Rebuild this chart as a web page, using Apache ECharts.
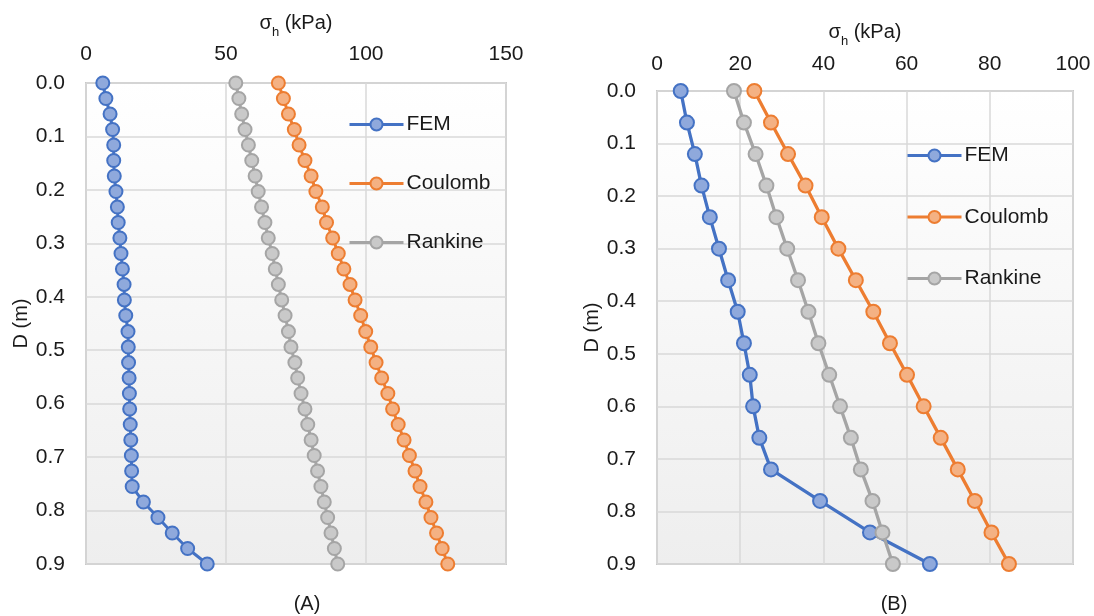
<!DOCTYPE html>
<html>
<head>
<meta charset="utf-8">
<script src="https://cdn.jsdelivr.net/npm/echarts@6/dist/echarts.min.js"></script>
<style>
html,body{margin:0;padding:0;background:#fff;}
#chart{width:1094px;height:616px;}
</style>
</head>
<body>
<div id="chart"></div>
<script>
// ---- Data (A) ----
const depthA = [0, 0.029, 0.058, 0.087, 0.116, 0.145, 0.174, 0.203, 0.232, 0.261, 0.290, 0.319, 0.348, 0.377, 0.406, 0.435,
                0.465, 0.494, 0.523, 0.552, 0.581, 0.610, 0.639, 0.668, 0.697, 0.726, 0.755, 0.784, 0.813, 0.842, 0.871, 0.900];
const femA = [6.0, 7.1, 8.6, 9.5, 9.9, 9.9, 10.1, 10.7, 11.2, 11.5, 12.1, 12.5, 13.0, 13.6, 13.7, 14.2,
              15.0, 15.1, 15.2, 15.4, 15.5, 15.6, 15.8, 16.0, 16.2, 16.3, 16.5, 20.5, 25.7, 30.8, 36.3, 43.3];
const coulombA = [68.7, 70.5, 72.3, 74.4, 76.1, 78.2, 80.4, 82.1, 84.4, 85.9, 88.1, 90.1, 92.1, 94.3, 96.1, 98.1,
                  99.9, 101.7, 103.6, 105.6, 107.8, 109.5, 111.5, 113.6, 115.5, 117.5, 119.3, 121.4, 123.2, 125.2, 127.2, 129.2];
const rankineA = [53.5, 54.6, 55.6, 56.8, 58.0, 59.2, 60.4, 61.5, 62.7, 63.9, 65.1, 66.5, 67.6, 68.7, 69.9, 71.1,
                  72.3, 73.2, 74.6, 75.6, 76.8, 78.2, 79.2, 80.4, 81.5, 82.7, 83.9, 85.1, 86.3, 87.5, 88.7, 89.9];
// ---- Data (B) ----
const depthB = [0, 0.06, 0.12, 0.18, 0.24, 0.30, 0.36, 0.42, 0.48, 0.54, 0.60, 0.66, 0.72, 0.78, 0.84, 0.90];
const femB = [5.7, 7.2, 9.1, 10.7, 12.7, 14.9, 17.1, 19.4, 20.9, 22.3, 23.1, 24.6, 27.4, 39.2, 51.2, 65.6];
const coulombB = [23.4, 27.4, 31.5, 35.7, 39.6, 43.6, 47.8, 52.0, 56.0, 60.1, 64.1, 68.2, 72.3, 76.4, 80.4, 84.6];
const rankineB = [18.5, 20.9, 23.7, 26.3, 28.7, 31.3, 33.9, 36.4, 38.8, 41.4, 44.0, 46.6, 49.0, 51.8, 54.2, 56.7];

const seriesNames = ['FEM', 'Coulomb', 'Rankine'];
const xRangeA = [0, 150, 50];
const xRangeB = [0, 100, 20];
const yRange = [0, 0.9, 0.1];
const captions = ['(A)', '(B)'];

const FONT = "'Liberation Sans', Arial, sans-serif";
const TXT = '#1a1a1a';
const lineCol = ['#4472C4', '#ED7D31', '#A5A5A5'];
const fillCol = ['#8FA9DC', '#F4B183', '#C9C9C9'];

function pairs(xs, ys) { return xs.map((v, i) => [v, ys[i]]); }

const bg = {type:'linear', x:0, y:0, x2:0, y2:1, colorStops:[{offset:0, color:'#ffffff'},{offset:1, color:'#eeeeee'}]};

function xAxis(gi, r, margin, gap) {
  return {
    gridIndex: gi, type: 'value', position: 'top', min: r[0], max: r[1], interval: r[2],
    axisLine: {show: false}, axisTick: {show: false},
    axisLabel: {fontFamily: FONT, fontSize: 21, color: TXT, margin: margin},
    splitLine: {show: true, lineStyle: {color: '#d9d9d9', width: 1.5}},
    name: '{s|σ}{sub|h}{s| (kPa)}', nameLocation: 'middle', nameGap: gap,
    nameTextStyle: {rich: {
      s: {fontFamily: FONT, fontSize: 20, color: TXT, lineHeight: 24},
      sub: {fontFamily: FONT, fontSize: 13, color: TXT, verticalAlign: 'bottom', lineHeight: 14, padding: [0,0,-4,0]}
    }}
  };
}
function yAxis(gi, gap) {
  return {
    gridIndex: gi, type: 'value', inverse: true, min: yRange[0], max: yRange[1], interval: yRange[2],
    axisLine: {show: false}, axisTick: {show: false},
    axisLabel: {fontFamily: FONT, fontSize: 21, color: TXT, margin: 21, formatter: v => v.toFixed(1)},
    splitLine: {show: true, lineStyle: {color: '#d9d9d9', width: 1.5}},
    name: 'D (m)', nameLocation: 'middle', nameGap: gap, nameRotate: 90,
    nameTextStyle: {fontFamily: FONT, fontSize: 20, color: TXT}
  };
}
function series(gi, name, k, xs, ys, size, lw) {
  return {
    type: 'line', name: name, xAxisIndex: gi, yAxisIndex: gi, data: pairs(xs, ys),
    symbol: 'circle', symbolSize: size,
    lineStyle: {color: lineCol[k], width: lw},
    itemStyle: {color: fillCol[k], borderColor: lineCol[k], borderWidth: 2},
    emphasis: {disabled: true}, animation: false
  };
}
function legend(left, top, gap) {
  return {orient: 'vertical', left: left, top: top, padding: 0, itemWidth: 54, itemHeight: 15, itemGap: gap,
    data: seriesNames, selectedMode: false,
    lineStyle: {width: 3}, itemStyle: {borderWidth: 2},
    textStyle: {fontFamily: FONT, fontSize: 21, color: TXT, padding: [0,0,0,-2]}};
}

const chart = echarts.init(document.getElementById('chart'), null, {renderer: 'canvas'});
chart.setOption({
  animation: false,
  backgroundColor: '#ffffff',
  title: [
    {text: captions[0], left: 302, top: 589, textAlign: 'center', textStyle: {fontFamily: FONT, fontSize: 20, fontWeight: 'normal', color: TXT}},
    {text: captions[1], left: 889, top: 589, textAlign: 'center', textStyle: {fontFamily: FONT, fontSize: 20, fontWeight: 'normal', color: TXT}}
  ],
  grid: [
    {left: 86, top: 83, width: 420, height: 481, show: true, backgroundColor: bg, borderColor: '#c8c8c8', borderWidth: 2},
    {left: 657, top: 91, width: 416, height: 473, show: true, backgroundColor: bg, borderColor: '#c8c8c8', borderWidth: 2}
  ],
  xAxis: [xAxis(0, xRangeA, 18, 47), xAxis(1, xRangeB, 16, 47)],
  yAxis: [yAxis(0, 42), yAxis(1, 45)],
  legend: [legend(348, 114, 38), legend(906, 145, 40.5)],
  series: [
    series(0, seriesNames[0], 0, femA, depthA, 13, 3),
    series(0, seriesNames[1], 1, coulombA, depthA, 13, 3),
    series(0, seriesNames[2], 2, rankineA, depthA, 13, 3),
    series(1, seriesNames[0], 0, femB, depthB, 14, 3.3),
    series(1, seriesNames[1], 1, coulombB, depthB, 14, 3.3),
    series(1, seriesNames[2], 2, rankineB, depthB, 14, 3.3)
  ]
});
</script>
</body>
</html>
